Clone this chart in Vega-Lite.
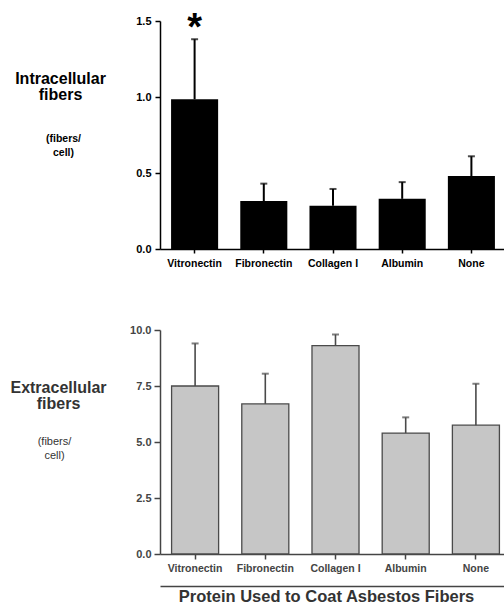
{
  "$schema": "https://vega.github.io/schema/vega-lite/v6.json",
  "padding": {"left": 9, "top": 10, "right": 0, "bottom": 0},
  "background": "white",
  "spacing": 55,
  "config": {"view": {"stroke": null}, "font": "Liberation Sans"},
  "datasets": {
    "intra": [
      {"protein": "Vitronectin", "value": 0.985, "err": 1.38, "sig": "*"},
      {"protein": "Fibronectin", "value": 0.315, "err": 0.43, "sig": ""},
      {"protein": "Collagen I", "value": 0.285, "err": 0.395, "sig": ""},
      {"protein": "Albumin", "value": 0.33, "err": 0.44, "sig": ""},
      {"protein": "None", "value": 0.48, "err": 0.61, "sig": ""}
    ],
    "extra": [
      {"protein": "Vitronectin", "value": 7.5, "err": 9.4},
      {"protein": "Fibronectin", "value": 6.7, "err": 8.05},
      {"protein": "Collagen I", "value": 9.3, "err": 9.8},
      {"protein": "Albumin", "value": 5.4, "err": 6.1},
      {"protein": "None", "value": 5.75, "err": 7.6}
    ]
  },
  "vconcat": [
    {
      "width": 346,
      "height": 228,
      "data": {"name": "intra"},
      "resolve": {"axis": {"x": "independent", "y": "independent"}},
      "layer": [
        {
          "mark": {"type": "bar", "color": "black"},
          "encoding": {
            "x": {"field": "protein", "type": "nominal", "sort": null,
              "scale": {"paddingInner": 0.32, "paddingOuter": 0.16},
              "axis": {"orient": "bottom", "title": null, "labelAngle": 0, "labelFont": "Liberation Sans", "labelFontWeight": "bold", "labelFontSize": 10.5, "labelColor": "black", "tickColor": "black", "tickSize": 4, "tickWidth": 1.5, "domainColor": "black", "domainWidth": 1.5, "labelPadding": 5}},
            "y": {"field": "value", "type": "quantitative",
              "scale": {"domain": [0, 1.5], "nice": false},
              "axis": {"orient": "left", "values": [0, 0.5, 1, 1.5], "format": ".1f", "grid": false, "labelFont": "Liberation Sans", "labelFontWeight": "bold", "labelFontSize": 11, "labelColor": "black", "tickColor": "black", "tickSize": 5, "tickWidth": 1.5, "domainColor": "black", "domainWidth": 1.5, "labelPadding": 4,
                "title": ["Intracellular", "fibers"], "titleAngle": 0, "titleAlign": "center", "titleBaseline": "alphabetic", "titleX": -100, "titleY": 62, "titleFont": "Liberation Sans", "titleFontWeight": "bold", "titleFontSize": 16, "titleColor": "black", "titleLineHeight": 16}}
          }
        },
        {
          "mark": {"type": "rule", "color": "black", "strokeWidth": 2},
          "encoding": {
            "x": {"field": "protein", "type": "nominal", "sort": null, "axis": null},
            "y": {"field": "value", "type": "quantitative",
              "axis": {"orient": "left", "labels": false, "ticks": false, "domain": false, "grid": false,
                "title": ["(fibers/", "cell)"], "titleAngle": 0, "titleAlign": "center", "titleBaseline": "alphabetic", "titleX": -97, "titleY": 120, "titleFont": "Liberation Sans", "titleFontWeight": "bold", "titleFontSize": 10.5, "titleColor": "black", "titleLineHeight": 14}},
            "y2": {"field": "err"}
          }
        },
        {
          "mark": {"type": "tick", "color": "black", "thickness": 2, "size": 7},
          "encoding": {
            "x": {"field": "protein", "type": "nominal", "sort": null, "axis": null},
            "y": {"field": "err", "type": "quantitative", "axis": null}
          }
        },
        {
          "mark": {"type": "text", "font": "Liberation Sans", "fontWeight": "bold", "fontSize": 38, "baseline": "alphabetic", "align": "center", "dy": 19, "color": "black"},
          "encoding": {
            "x": {"field": "protein", "type": "nominal", "sort": null, "axis": null},
            "y": {"datum": 1.5, "type": "quantitative", "axis": null},
            "text": {"field": "sig"}
          }
        }
      ]
    },
    {
      "width": 351,
      "height": 224,
      "data": {"name": "extra"},
      "resolve": {"axis": {"x": "independent", "y": "independent"}},
      "layer": [
        {
          "mark": {"type": "bar", "color": "#c6c6c6", "stroke": "#4a4a4a", "strokeWidth": 1.3},
          "encoding": {
            "x": {"field": "protein", "type": "nominal", "sort": null,
              "scale": {"paddingInner": 0.33, "paddingOuter": 0.165},
              "axis": {"orient": "bottom", "title": null, "labelAngle": 0, "labelFont": "Liberation Sans", "labelFontWeight": "bold", "labelFontSize": 10.5, "labelColor": "#444", "tickColor": "#444", "tickSize": 5, "tickWidth": 1.5, "domainColor": "#444", "domainWidth": 1.5, "labelPadding": 4}},
            "y": {"field": "value", "type": "quantitative",
              "scale": {"domain": [0, 10], "nice": false},
              "axis": {"orient": "left", "values": [0, 2.5, 5, 7.5, 10], "format": ".1f", "grid": false, "labelFont": "Liberation Sans", "labelFontWeight": "bold", "labelFontSize": 11, "labelColor": "#444", "tickColor": "#444", "tickSize": 6, "tickWidth": 1.5, "domainColor": "#444", "domainWidth": 1.5, "labelPadding": 3,
                "title": ["Extracellular", "fibers"], "titleAngle": 0, "titleAlign": "center", "titleBaseline": "alphabetic", "titleX": -102, "titleY": 62, "titleFont": "Liberation Sans", "titleFontWeight": "bold", "titleFontSize": 16, "titleColor": "#333", "titleLineHeight": 16}}
          }
        },
        {
          "mark": {"type": "rule", "color": "#4a4a4a", "strokeWidth": 1.6},
          "encoding": {
            "x": {"field": "protein", "type": "nominal", "sort": null,
              "axis": {"orient": "bottom", "labels": false, "ticks": false, "grid": false, "offset": 32, "domainColor": "#444", "domainWidth": 1.5,
                "title": "Protein Used to Coat Asbestos Fibers", "titleFont": "Liberation Sans", "titleFontWeight": "bold", "titleFontSize": 16.5, "titleColor": "#333", "titlePadding": 2, "titleX": 166, "titleAlign": "center", "titleBaseline": "top"}},
            "y": {"field": "value", "type": "quantitative",
              "axis": {"orient": "left", "labels": false, "ticks": false, "domain": false, "grid": false,
                "title": ["(fibers/", "cell)"], "titleAngle": 0, "titleAlign": "center", "titleBaseline": "alphabetic", "titleX": -106, "titleY": 114, "titleFont": "Liberation Sans", "titleFontWeight": "normal", "titleFontSize": 11, "titleColor": "#333", "titleLineHeight": 14}},
            "y2": {"field": "err"}
          }
        },
        {
          "mark": {"type": "tick", "color": "#4a4a4a", "thickness": 2, "size": 7},
          "encoding": {
            "x": {"field": "protein", "type": "nominal", "sort": null, "axis": null},
            "y": {"field": "err", "type": "quantitative", "axis": null}
          }
        }
      ]
    }
  ]
}
